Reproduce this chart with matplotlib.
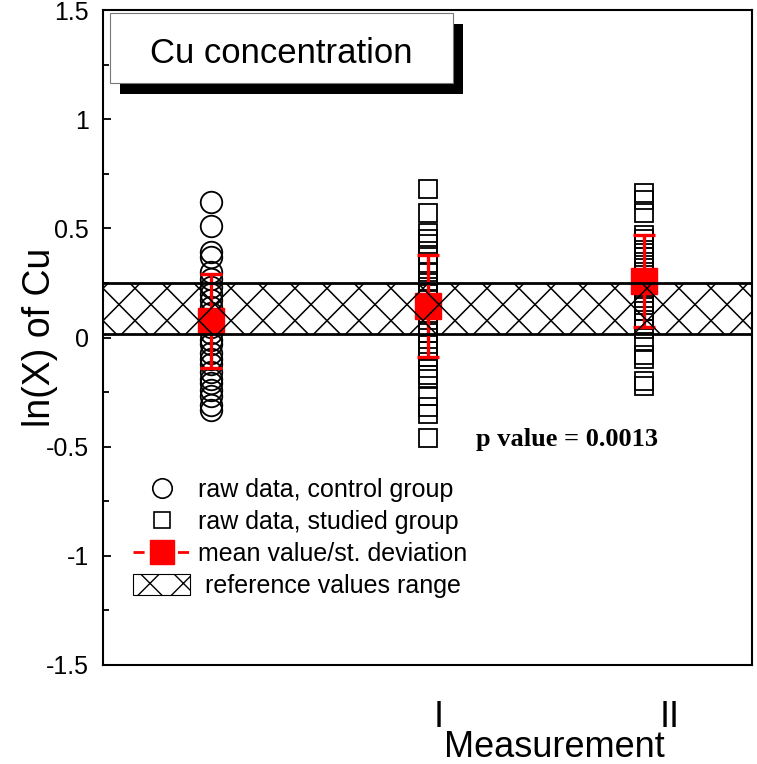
import numpy as np
import matplotlib
matplotlib.use("Agg")
import matplotlib.pyplot as plt
from matplotlib.lines import Line2D
from matplotlib.patches import Patch, Rectangle
from matplotlib.collections import LineCollection

plt.rcParams['font.family'] = ['Liberation Sans', 'DejaVu Sans']

# raw data
control = [0.62, 0.51, 0.39, 0.37, 0.30, 0.27, 0.23, 0.20, 0.17, 0.14, 0.11, 0.08,
           0.05, 0.02, -0.01, -0.03, -0.07, -0.10, -0.12, -0.16, -0.19, -0.21,
           -0.24, -0.27, -0.31, -0.33]
group_1 = [0.68, 0.57, 0.48, 0.45, 0.43, 0.38, 0.33, 0.30, 0.26, 0.23, 0.20, 0.17,
           0.14, 0.11, 0.08, 0.05, 0.02, -0.03, -0.06, -0.09, -0.14, -0.17, -0.19,
           -0.27, -0.32, -0.35, -0.46]
group_2 = [0.66, 0.63, 0.57, 0.47, 0.45, 0.43, 0.40, 0.37, 0.33, 0.30, 0.26, 0.22,
           0.18, 0.15, 0.12, 0.08, 0.04, -0.02, -0.08, -0.10, -0.20, -0.22]

means = [0.075, 0.144, 0.26]
stds = [0.215, 0.234, 0.21]
ref_range = (0.015, 0.25)

tick_labels = ["I", "II"]
p_text = "p value = 0.0013"

red = "#ff0000"

fig = plt.figure(figsize=(7.57, 7.64), dpi=100)
ax = fig.add_axes([103 / 757, 1 - 665 / 764, 649 / 757, 655 / 764])

# raw data
ax.plot([1] * len(control), control, 'o', ms=15.5, mfc='none', mec='black', mew=1.3, zorder=2)
ax.plot([2] * len(group_1), group_1, 's', ms=12.5, mfc='none', mec='black', mew=1.3, zorder=2)
ax.plot([3] * len(group_2), group_2, 's', ms=12.5, mfc='none', mec='black', mew=1.3, zorder=2)

# mean / st. deviation
ax.errorbar([1, 2, 3], means, yerr=stds, fmt='s', color=red, ms=18.5,
            elinewidth=2.4, capsize=8, capthick=2.4, zorder=3)

# reference band, hatched by hand (wider spacing than mpl hatch)
band = ax.axhspan(ref_range[0], ref_range[1], facecolor='none', edgecolor='none', zorder=4)
step = 32 / 649
segs = []
for c in np.arange(-1.2, 2.2, step):
    segs.append([(0, c), (1, 1 + c)])
    segs.append([(0, c), (1, c - 1)])
lc = LineCollection(segs, colors='black', linewidths=1.1, transform=ax.transAxes, zorder=4)
ax.add_collection(lc)
lc.set_clip_path(band)
ax.axhline(ref_range[0], color='black', lw=2.0, zorder=5)
ax.axhline(ref_range[1], color='black', lw=2.0, zorder=5)

ax.set_xlim(0.5, 3.5)
ax.set_ylim(-1.5, 1.5)
ax.set_yticks(np.arange(-1.5, 1.51, 0.5))
ax.set_yticklabels(["-1.5", "-1", "-0.5", "0", "0.5", "1", "1.5"])
ax.set_yticks(np.arange(-1.25, 1.5, 0.5), minor=True)
ax.tick_params(axis='y', which='both', direction='in', width=1.3, labelsize=18, pad=10)
ax.tick_params(axis='y', which='major', length=6)
ax.tick_params(axis='y', which='minor', length=4)
ax.set_xticks([2.05, 3.12])
ax.set_xticklabels(tick_labels)
ax.tick_params(axis='x', length=0, labelsize=26, pad=25)
for s in ax.spines.values():
    s.set_linewidth(1.5)

ax.text(-0.097, 0.5, "ln(X) of Cu", rotation=90, fontsize=27, ha='center', va='center',
        transform=ax.transAxes)
ax.text(0.695, -0.152, "Measurement", fontsize=26, ha='center', va='bottom',
        transform=ax.transAxes)

# title box with shadow
ax.add_patch(Rectangle((0.011 + 0.0154, 0.889 - 0.0168), 0.528, 0.106, transform=ax.transAxes,
                       facecolor='black', edgecolor='none', zorder=6, clip_on=False))
ax.add_patch(Rectangle((0.011, 0.889), 0.528, 0.106, transform=ax.transAxes,
                       facecolor='white', edgecolor='#777777', lw=0.8, zorder=7, clip_on=False))
ax.text(0.274, 0.933, "Cu concentration", fontsize=25, ha='center', va='center',
        transform=ax.transAxes, zorder=8)

ax.text(0.575, 0.345, p_text, fontsize=19, fontweight='bold', family='Liberation Serif',
        ha='left', va='center', transform=ax.transAxes)

handles = [
    Line2D([], [], ls='none', marker='o', ms=14, mfc='none', mec='black', mew=1.2),
    Line2D([], [], ls='none', marker='s', ms=12, mfc='none', mec='black', mew=1.2),
    Line2D([], [], ls='--', dashes=(4, 4), lw=2, color=red, marker='s', ms=17),
    Patch(facecolor='white', edgecolor='black', hatch='x', lw=0.8),
]
labels = ["raw data, control group", "raw data, studied group",
          "mean value/st. deviation", " reference values range"]
ax.legend(handles, labels, loc='upper left', bbox_to_anchor=(0.046, 0.285), frameon=False,
          fontsize=18, handlelength=2.3, handletextpad=0.3, handleheight=0.9,
          labelspacing=0.32, borderpad=0, borderaxespad=0)

fig.savefig("out.png", dpi=100)
